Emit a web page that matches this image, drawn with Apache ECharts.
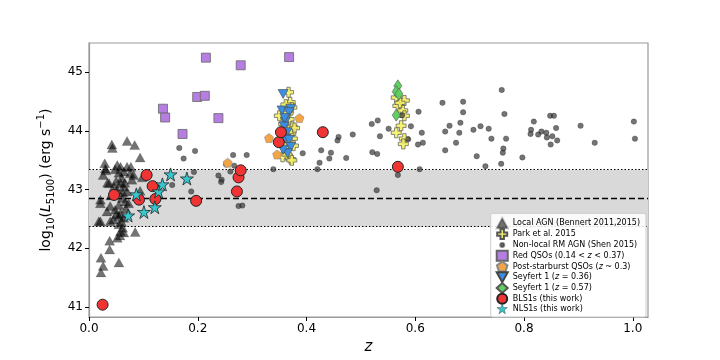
<!DOCTYPE html>
<html>
<head>
<meta charset="utf-8">
<script src="https://cdn.jsdelivr.net/npm/echarts@6.0.0/dist/echarts.min.js"></script>
<style>
  html, body { margin: 0; padding: 0; background: #fff; }
  #chart { width: 720px; height: 360px; }
</style>
</head>
<body>
<div id="chart"></div>
<script>
// tick values
const xTicks = [0, 0.2, 0.4, 0.6, 0.8, 1.0]
const yTicks = [41, 42, 43, 44, 45]

// band of L5100 (mean and edges)
const bandLow = 42.37
const bandMid = 42.86
const bandHigh = 43.34

// [z, log L5100]
const localAgn = [
  [0.042, 43.77], [0.043, 43.71], [0.070, 43.83], [0.084, 43.76], [0.094, 43.55],
  [0.030, 43.36], [0.026, 43.25], [0.034, 43.12], [0.029, 43.45], [0.031, 43.33], [0.037, 43.11],
  [0.052, 43.42], [0.058, 43.39], [0.048, 43.35], [0.055, 43.29], [0.064, 43.31], [0.070, 43.39],
  [0.076, 43.28], [0.079, 43.17], [0.077, 43.39], [0.082, 43.25], [0.098, 43.21],
  [0.058, 43.11], [0.064, 43.05], [0.052, 43.00], [0.070, 42.97], [0.045, 42.91],
  [0.061, 42.86], [0.067, 42.80], [0.055, 42.74], [0.073, 42.77],
  [0.039, 42.72], [0.033, 42.63], [0.048, 42.66], [0.058, 42.60], [0.064, 42.52],
  [0.021, 42.46], [0.045, 42.49], [0.055, 42.55], [0.021, 42.83], [0.021, 42.77], [0.018, 42.46],
  [0.039, 42.46], [0.055, 42.41], [0.058, 42.29], [0.064, 42.27], [0.085, 42.28], [0.052, 42.18],
  [0.038, 42.13], [0.038, 41.98], [0.022, 41.84], [0.026, 41.70], [0.022, 41.59], [0.055, 41.76],
  [0.060, 43.20], [0.050, 43.15], [0.066, 43.12], [0.046, 43.05], [0.062, 42.95], [0.040, 42.90],
  [0.068, 42.68], [0.050, 42.58], [0.060, 42.45], [0.062, 42.35], [0.057, 42.22], [0.094, 42.98]
]
const park = [
  [0.367, 44.66], [0.370, 44.49], [0.373, 44.40], [0.362, 44.45], [0.350, 44.26], [0.366, 44.30],
  [0.374, 44.07], [0.378, 44.05], [0.371, 43.95], [0.362, 43.92], [0.374, 43.87], [0.366, 43.82],
  [0.361, 43.73], [0.376, 43.75], [0.356, 43.56], [0.371, 43.52], [0.364, 43.60], [0.373, 43.50],
  [0.368, 44.20], [0.358, 44.12],
  [0.565, 44.57], [0.580, 44.52], [0.568, 44.43], [0.577, 44.35], [0.580, 44.26], [0.574, 44.09],
  [0.565, 43.97], [0.580, 43.87], [0.578, 43.78], [0.572, 44.48]
]
const nonLocal = [
  [0.166, 43.71], [0.174, 43.53], [0.195, 43.66], [0.265, 43.59], [0.290, 43.59], [0.153, 43.08],
  [0.188, 42.97], [0.193, 43.30], [0.252, 43.43], [0.267, 43.41], [0.260, 43.31], [0.238, 43.24],
  [0.244, 43.17], [0.243, 43.13], [0.275, 42.72], [0.282, 42.73], [0.339, 43.35], [0.393, 43.62],
  [0.427, 43.67], [0.424, 43.46], [0.445, 43.63], [0.442, 43.53], [0.459, 43.90], [0.457, 43.84],
  [0.485, 43.94], [0.473, 43.54], [0.520, 44.12], [0.531, 44.18], [0.551, 44.04], [0.535, 43.91],
  [0.521, 43.64], [0.530, 43.61], [0.420, 43.35], [0.529, 42.99], [0.568, 43.25], [0.576, 44.27],
  [0.587, 43.86], [0.592, 44.08], [0.606, 44.33], [0.612, 43.97], [0.605, 43.77], [0.614, 43.80],
  [0.608, 43.35], [0.650, 44.48], [0.688, 44.50], [0.688, 44.32], [0.663, 44.09], [0.655, 43.99],
  [0.683, 44.14], [0.681, 43.97], [0.675, 43.80], [0.655, 43.67], [0.707, 44.02], [0.720, 44.08],
  [0.735, 44.04], [0.740, 43.87], [0.713, 43.57], [0.729, 43.40], [0.759, 44.70], [0.764, 44.29],
  [0.767, 43.87], [0.762, 43.70], [0.761, 43.63], [0.758, 43.44], [0.797, 43.55], [0.818, 44.16],
  [0.813, 44.02], [0.812, 43.95], [0.826, 43.94], [0.832, 43.99], [0.841, 43.97], [0.842, 43.89],
  [0.852, 43.91], [0.849, 43.77], [0.861, 43.84], [0.859, 44.05], [0.848, 44.26], [0.855, 44.26],
  [0.904, 44.09], [0.930, 43.80], [1.002, 44.16], [1.004, 43.87]
]
const redQso = [
  [0.215, 45.25], [0.279, 45.12], [0.368, 45.26], [0.199, 44.58], [0.213, 44.60],
  [0.136, 44.38], [0.140, 44.23], [0.238, 44.22], [0.172, 43.95]
]
const postStarburst = [[0.255, 43.46], [0.331, 43.88], [0.346, 43.60], [0.387, 44.22]]
const sey036 = [
  [0.357, 44.63], [0.355, 44.35], [0.371, 44.38], [0.368, 44.32], [0.361, 44.16], [0.359, 44.08],
  [0.364, 43.98], [0.361, 43.87], [0.368, 43.85], [0.371, 43.73], [0.365, 43.62], [0.357, 43.68],
  [0.360, 44.22]
]
const sey057 = [[0.568, 44.77], [0.565, 44.67], [0.570, 44.63], [0.565, 44.27]]
const bls1 = [
  [0.025, 41.04], [0.046, 42.91], [0.092, 42.83], [0.106, 43.25], [0.117, 43.06], [0.122, 42.84],
  [0.197, 42.81], [0.272, 42.97], [0.275, 43.21], [0.279, 43.33], [0.349, 43.81], [0.353, 43.98],
  [0.430, 43.98], [0.568, 43.39]
]
const nls1 = [
  [0.072, 42.56], [0.087, 42.92], [0.101, 42.62], [0.121, 42.70], [0.128, 42.97], [0.135, 43.09],
  [0.150, 43.26], [0.180, 43.19]
]

const STAR = 'path://M50,0 L61.17,34.63 L97.55,34.55 L68.07,55.87 L79.39,90.45 L50,69 L20.61,90.45 L31.93,55.87 L2.45,34.55 L38.83,34.63 Z'
const PENTA = 'path://M50,0 L97.55,34.55 L79.39,90.45 L20.61,90.45 L2.45,34.55 Z'
const PLUS = 'path://M3.3,0 H6.7 V3.3 H10 V6.7 H6.7 V10 H3.3 V6.7 H0 V3.3 H3.3 Z'
const TRI_DOWN = 'path://M0,0 L10,0 L5,9 Z'
// small dot inside an empty 10x10 box, for the legend only
const SMALL_DOT = 'path://M0,0 M10,10 M3,5 A2,2 0 1,0 7,5 A2,2 0 1,0 3,5 Z'

const FONT = 'DejaVu Sans'

function scatter (name, data, symbol, size, color, border, bw, z) {
  return {
    name: name,
    type: 'scatter',
    data: data,
    symbol: symbol,
    symbolSize: size,
    z: z,
    itemStyle: { color: color, borderColor: border, borderWidth: bw, opacity: 1 }
  }
}

const legendText = {
  'Red QSOs (0.14 < z < 0.37)': 'Red QSOs (0.14 < {i|z} < 0.37)',
  'Post-starburst QSOs (z ~ 0.3)': 'Post-starburst QSOs ({i|z} ~ 0.3)',
  'Seyfert 1 (z = 0.36)': 'Seyfert 1 ({i|z} = 0.36)',
  'Seyfert 1 (z = 0.57)': 'Seyfert 1 ({i|z} = 0.57)'
}

const chart = echarts.init(document.getElementById('chart'))
chart.setOption({
  animation: false,
  textStyle: { fontFamily: FONT },
  grid: {
    left: 89, right: 72, top: 43, bottom: 40,
    show: true, borderColor: '#999', borderWidth: 1.2, backgroundColor: 'transparent'
  },
  legend: {
    z: 50,
    orient: 'vertical',
    right: 74,
    bottom: 43,
    padding: [4, 6, 3, 5],
    itemGap: -1.2,
    itemWidth: 11,
    itemHeight: 10,
    backgroundColor: 'rgba(255,255,255,0.85)',
    borderColor: '#ccc',
    borderWidth: 1,
    borderRadius: 2,
    textStyle: { fontSize: 8, lineHeight: 10, color: '#000', fontFamily: FONT, rich: { i: { fontStyle: 'italic', fontSize: 8, lineHeight: 10, fontFamily: FONT } } },
    formatter: function (name) { return legendText[name] || name },
    data: ['Local AGN (Bennert 2011,2015)', 'Park et al. 2015',
      { name: 'Non-local RM AGN (Shen 2015)', icon: SMALL_DOT },
      'Red QSOs (0.14 < z < 0.37)', 'Post-starburst QSOs (z ~ 0.3)', 'Seyfert 1 (z = 0.36)',
      'Seyfert 1 (z = 0.57)', 'BLS1s (this work)',
      { name: 'NLS1s (this work)', itemStyle: { borderWidth: 0.4 } }]
  },
  xAxis: {
    type: 'value',
    min: 0,
    max: 1.028,
    name: 'z',
    nameLocation: 'middle',
    nameGap: 23,
    nameTextStyle: { fontSize: 15, fontStyle: 'italic', color: '#000', fontFamily: FONT },
    axisLine: { show: true, lineStyle: { color: '#999', width: 1.2 } },
    axisTick: { show: true, customValues: xTicks, length: 4, lineStyle: { color: '#000', width: 1 } },
    axisLabel: { customValues: xTicks, fontSize: 12, color: '#000', margin: 6, formatter: v => v.toFixed(1) },
    splitLine: { show: false }
  },
  yAxis: {
    type: 'value',
    min: 40.83,
    max: 45.5,
    name: '{t|log}{s|10}{t|(}{i|L}{s|5100}{t|) (erg s}{p|\u22121}{t|)}',
    nameLocation: 'middle',
    nameGap: 17,
    nameRotate: 90,
    nameTextStyle: {
      color: '#000',
      rich: {
        t: { fontSize: 14, fontFamily: FONT, color: '#000', lineHeight: 20 },
        i: { fontSize: 14, fontFamily: FONT, color: '#000', fontStyle: 'italic', lineHeight: 20 },
        s: { fontSize: 10, fontFamily: FONT, color: '#000', verticalAlign: 'bottom', lineHeight: 12 },
        p: { fontSize: 10, fontFamily: FONT, color: '#000', verticalAlign: 'top', lineHeight: 12 }
      }
    },
    axisLine: { show: true, lineStyle: { color: '#999', width: 1.2 } },
    axisTick: { show: true, customValues: yTicks, length: 4, lineStyle: { color: '#000', width: 1 } },
    axisLabel: { customValues: yTicks, fontSize: 12, color: '#000', margin: 6 },
    splitLine: { show: false }
  },
  series: [
    {
      type: 'line',
      data: [],
      z: 1,
      silent: true,
      markArea: {
        silent: true,
        itemStyle: { color: '#d9d9d9' },
        data: [[{ yAxis: bandLow }, { yAxis: bandHigh }]]
      },
      markLine: {
        silent: true,
        symbol: 'none',
        label: { show: false },
        data: [
          { yAxis: bandHigh, lineStyle: { type: [1.5, 2], color: '#000', width: 1.2 } },
          { yAxis: bandLow, lineStyle: { type: [1.5, 2], color: '#000', width: 1.2 } },
          { yAxis: bandMid, lineStyle: { type: [6, 3], color: '#000', width: 1.3 } }
        ]
      }
    },
    scatter('Local AGN (Bennert 2011,2015)', localAgn, 'triangle', [10, 9], 'rgba(0,0,0,0.55)', 'rgba(0,0,0,0.3)', 0.5, 3),
    scatter('Park et al. 2015', park, PLUS, 10, 'rgba(245,240,90,0.85)', '#555', 0.7, 4),
    scatter('Non-local RM AGN (Shen 2015)', nonLocal, 'circle', 5.5, 'rgba(50,50,50,0.68)', 'rgba(0,0,0,0.45)', 0.5, 5),
    scatter('Red QSOs (0.14 < z < 0.37)', redQso, 'rect', 9, '#b57ee0', '#666', 0.8, 6),
    scatter('Post-starburst QSOs (z ~ 0.3)', postStarburst, PENTA, 9, '#f5a443', '#888', 0.6, 7),
    scatter('Seyfert 1 (z = 0.36)', sey036, TRI_DOWN, [10, 9], '#3c8ee0', '#444', 0.6, 8),
    scatter('Seyfert 1 (z = 0.57)', sey057, 'diamond', [8, 12], '#5fd060', '#555', 0.6, 9),
    scatter('BLS1s (this work)', bls1, 'circle', 11, '#f03434', '#222', 1, 10),
    scatter('NLS1s (this work)', nls1, STAR, 13, '#36c6cc', '#222', 0.8, 11)
  ]
})
window.addEventListener('resize', function () {
  chart.resize()
})
</script>
</body>
</html>
